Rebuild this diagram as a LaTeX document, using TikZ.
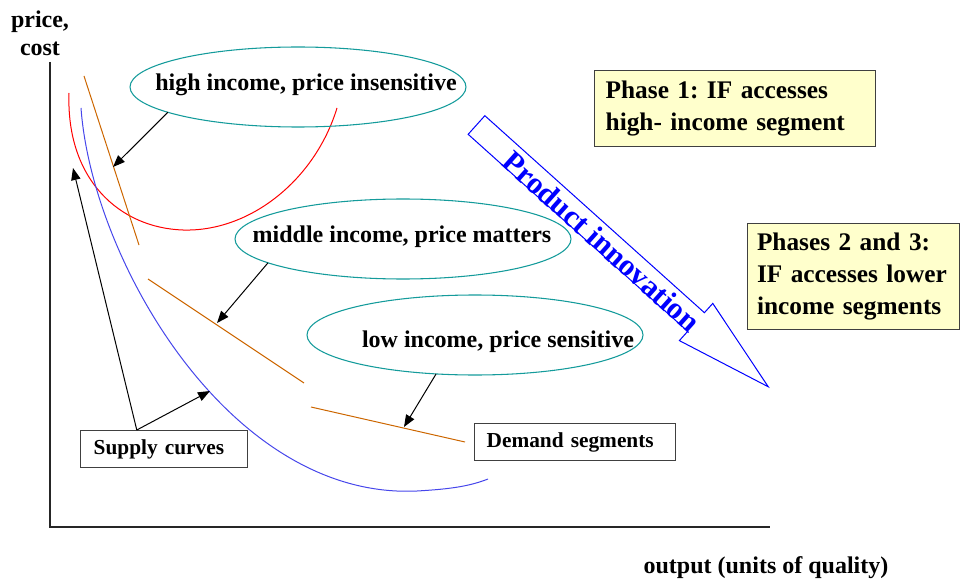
\documentclass[tikz,border=0pt]{standalone}
\usepackage{fontspec}
\setmainfont{Liberation Serif}
\usetikzlibrary{shapes, arrows.meta}
\frenchspacing

\definecolor{tealc}{RGB}{20,155,155}
\definecolor{orangec}{RGB}{204,102,0}
\definecolor{supblue}{RGB}{70,70,235}
\definecolor{boxfill}{RGB}{255,255,204}

\begin{document}
\begin{tikzpicture}[x=0.75pt, y=-0.75pt,
        ec/.style={ellipse, draw=tealc, line width=0.8pt, minimum width=252pt, minimum height=60pt, inner sep=0pt, outer sep=0pt},
        lb/.style={font=\fontsize{18}{21}\selectfont\bfseries},
        ph/.style={draw=black!75, line width=1pt, fill=boxfill, align=left, anchor=north west, font=\fontsize{19}{24}\selectfont\bfseries},
        sb/.style={draw=black!75, line width=1pt, align=left, anchor=north west, minimum height=27.75pt, font=\fontsize{16}{19}\selectfont\bfseries},
        arr/.style={-{Triangle[length=9pt,width=7pt]}, line width=0.75pt}]
            \useasboundingbox (0,0) rectangle (960,588);

            \draw[line width=1pt, black!85] (50,62) -- (50,527) -- (770,527);
            \draw (40,33) node[lb, align=center](pc){price,\\cost};
            \draw (766,573) node[lb, anchor=base](out){output (units of quality)};

            \draw[red, line width=0.75pt] (69,93) .. controls (66,180) and (120,228) .. (183,230)
                .. controls (250,232) and (315,180) .. (337,108);
            \draw[supblue, line width=0.75pt] (81,108) .. controls (92,260) and (230,500) .. (417,491)
                .. controls (452,489) and (470,486) .. (488,479);

            \begin{scope}[orangec, line width=0.75pt]
                \draw (84,76) -- (139,245);
                \draw (148,279) -- (304,383);
                \draw (311,407) -- (465,442);
            \end{scope}

            \draw (298,87) node[ec](hi){};
            \draw (403,239) node[ec](mid){};
            \draw (475,335) node[ec](lo){};
            \draw (306,91) node[lb, anchor=base](hit){high income, price insensitive};
            \draw (402,243) node[lb, anchor=base](midt){middle income, price matters};
            \draw (498,347) node[lb, anchor=base](lot){low income, price sensitive};

            \draw (80,430) node[sb, inner xsep=9.75pt, text width=105.75pt](sup){Supply curves};
            \draw (474,423) node[sb, inner xsep=9pt, text width=132.75pt](dem){Demand segments};

            \draw (594,70) node[ph, inner xsep=8.25pt, text width=194.25pt, minimum height=57pt](ph1){Phase 1: IF accesses\\high- income segment};
            \draw (747,223) node[ph, inner xsep=7pt, text width=145pt, minimum height=79.5pt](ph2){Phases 2 and 3:\\IF accesses lower\\income segments};

            \coordinate (d1) at (113,167);
            \coordinate (d2) at (217,323);
            \coordinate (d3) at (404,427);
            \coordinate (s1) at (73,168);
            \coordinate (s2) at (210,391);

            \draw[arr] (hi.191) -- (d1);
            \draw[arr] (mid.190) -- (d2);
            \draw[arr] (lo.225) -- (d3);
            \draw[arr] (sup.145) -- (s1);
            \draw[arr] (sup.145) -- (s2);

            \begin{scope}[shift={(476.5,125)}, rotate=-41.9]
                \draw[blue, line width=0.75pt] (0,-12.5) -- (295,-12.5) -- (295,-25) -- (392,0)
                    -- (295,25) -- (295,12.5) -- (0,12.5) -- cycle;
                \draw (171,3) node[rotate=-41.9, text=blue, font=\fontsize{23}{26}\selectfont\bfseries](pin){Product innovation};
            \end{scope}
        \end{tikzpicture}
\end{document}
